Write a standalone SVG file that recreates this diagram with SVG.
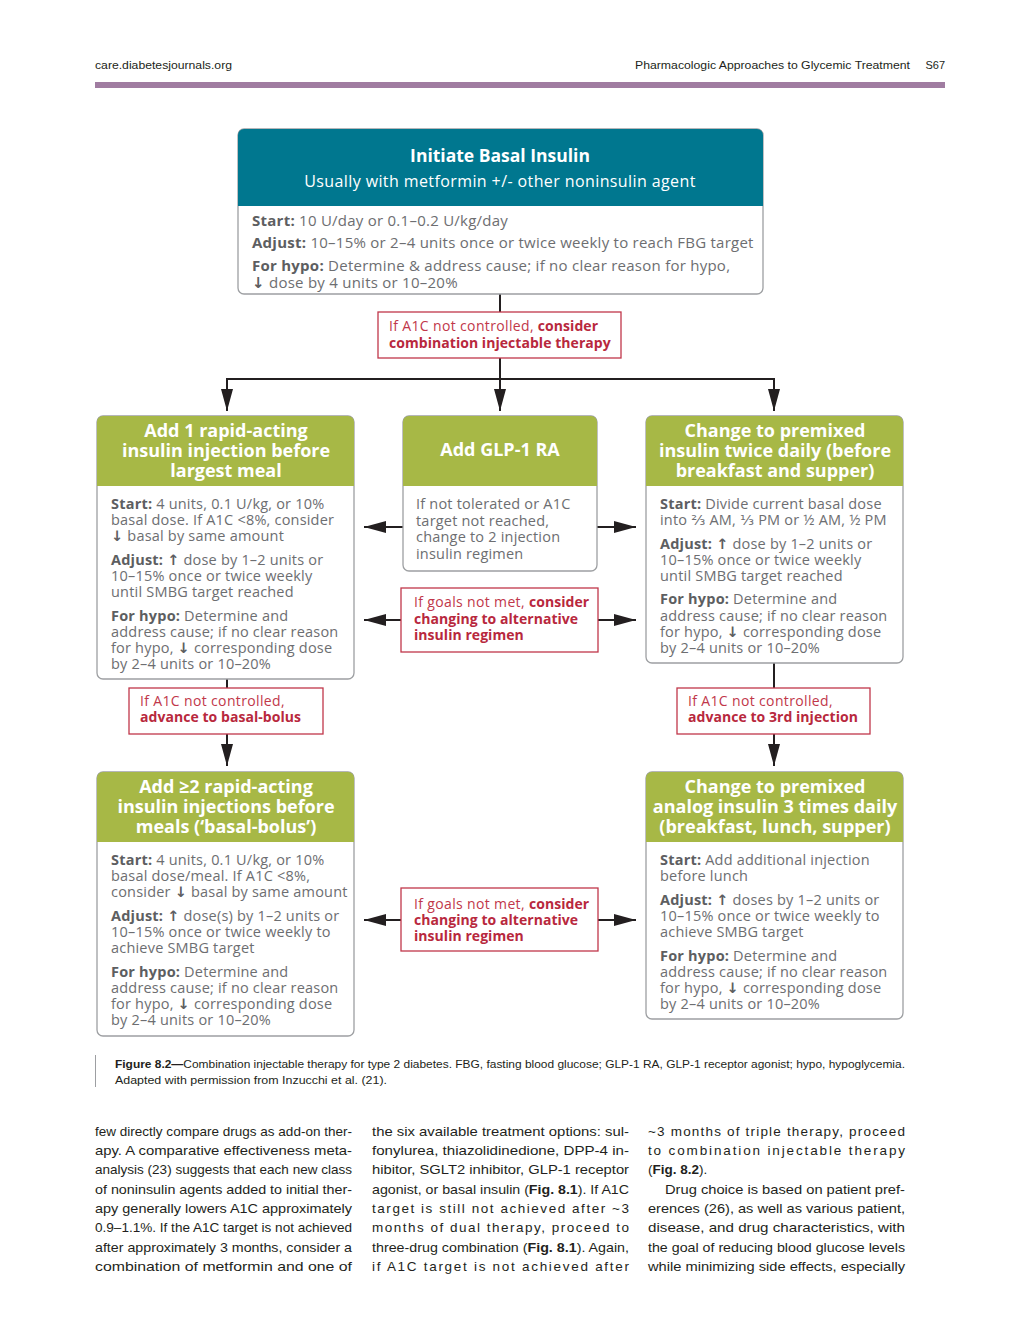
<svg xmlns="http://www.w3.org/2000/svg" width="1024" height="1326" viewBox="0 0 1024 1326">
<defs>
<marker id="ah" markerWidth="22" markerHeight="12" refX="22" refY="6" orient="auto" markerUnits="userSpaceOnUse">
<path d="M0,0 L22,6 L0,12 Z" fill="#231f20"/>
</marker>
<style>
.pg{font-family:"Liberation Sans",Arial,sans-serif;fill:#231f20}
.box{fill:#fff;stroke:#9d9fa2;stroke-width:1.3}
.teal{fill:#00778f}
.green{fill:#a7b846}
.ttl{font-family:"Open Sans","DejaVu Sans",sans-serif;font-weight:bold;fill:#fff;font-size:18px;text-anchor:middle}
.ttl0{font-family:"Open Sans","DejaVu Sans",sans-serif;font-weight:bold;fill:#fff;font-size:17.5px;text-anchor:middle}
.sub{font-family:"Open Sans","DejaVu Sans",sans-serif;fill:#fff;font-size:16px;letter-spacing:0.4px;text-anchor:middle}
.bd{font-family:"Open Sans","DejaVu Sans",sans-serif;fill:#6d6e71;font-size:14.5px;letter-spacing:0.2px}
.bd0{font-size:15px;letter-spacing:0.25px}
.bd tspan.b{font-weight:bold;fill:#5d5e61}
.bd tspan.a{font-weight:bold;fill:#5d5e61}
.rb{fill:#fff;stroke:#c1374a;stroke-width:1.3}
.rt{font-family:"Open Sans","DejaVu Sans",sans-serif;fill:#c1374a;font-size:14px;letter-spacing:0.35px}
.rt tspan.b{font-weight:bold;fill:#b8283d;letter-spacing:0.05px}
.ln{stroke:#231f20;stroke-width:2;fill:none}
.ar{stroke:#231f20;stroke-width:2;fill:none;marker-end:url(#ah)}
.txt{font-family:"Liberation Sans",Arial,sans-serif;fill:#231f20;font-size:13.5px}
</style>
</defs>
<rect width="1024" height="1326" fill="#fff"/>

<g id="page-header">
<text class="pg" x="95" y="69" font-size="11" textLength="137" lengthAdjust="spacingAndGlyphs">care.diabetesjournals.org</text>
<text class="pg" x="635" y="69" font-size="11" textLength="275" lengthAdjust="spacingAndGlyphs">Pharmacologic Approaches to Glycemic Treatment</text>
<text class="pg" x="945" y="69" font-size="11" text-anchor="end">S67</text>
<rect x="95" y="82" width="850" height="6" fill="#a07ca1"/>
</g>

<g id="connectors">
<line class="ln" x1="500" y1="294" x2="500" y2="312"/>
<line class="ln" x1="500" y1="358" x2="500" y2="379"/>
<line class="ln" x1="226" y1="379" x2="775" y2="379"/>
<line class="ar" x1="227" y1="379" x2="227" y2="411"/>
<line class="ar" x1="500" y1="379" x2="500" y2="411"/>
<line class="ar" x1="774" y1="379" x2="774" y2="411"/>
<line class="ar" x1="403" y1="527" x2="364" y2="527"/>
<line class="ar" x1="597" y1="527" x2="636" y2="527"/>
<line class="ar" x1="401" y1="620" x2="364" y2="620"/>
<line class="ar" x1="598" y1="620" x2="636" y2="620"/>
<line class="ln" x1="227" y1="679" x2="227" y2="688"/>
<line class="ar" x1="227" y1="734" x2="227" y2="766"/>
<line class="ln" x1="774" y1="663" x2="774" y2="688"/>
<line class="ar" x1="774" y1="734" x2="774" y2="766"/>
<line class="ar" x1="401" y1="920" x2="364" y2="920"/>
<line class="ar" x1="598" y1="920" x2="636" y2="920"/>
</g>

<g id="node-basal">
<rect class="box" x="238" y="129" width="525" height="165" rx="6"/>
<path class="teal" d="M244,129 H757 A6,6 0 0 1 763,135 V206 H238 V135 A6,6 0 0 1 244,129 Z"/>
<text class="ttl0" x="500" y="162">Initiate Basal Insulin</text>
<text class="sub" x="500" y="187">Usually with metformin +/- other noninsulin agent</text>
<text class="bd bd0" x="252" y="226"><tspan class="b">Start:</tspan> 10 U/day or 0.1–0.2 U/kg/day</text>
<text class="bd bd0" x="252" y="248"><tspan class="b">Adjust:</tspan> 10–15% or 2–4 units once or twice weekly to reach FBG target</text>
<text class="bd bd0" x="252" y="271"><tspan class="b">For hypo:</tspan> Determine &amp; address cause; if no clear reason for hypo,</text>
<text class="bd bd0" x="252" y="288"><tspan class="a">↓</tspan> dose by 4 units or 10–20%</text>
</g>

<g id="cond-combination">
<rect class="rb" x="378" y="312" width="243" height="46"/>
<text class="rt" x="389" y="331">If A1C not controlled, <tspan class="b">consider</tspan></text>
<text class="rt" x="389" y="348"><tspan class="b">combination injectable therapy</tspan></text>
</g>

<g id="node-rapid1">
<rect class="box" x="97" y="416" width="257" height="263" rx="6"/>
<path class="green" d="M103,416 H348 A6,6 0 0 1 354,422 V486 H97 V422 A6,6 0 0 1 103,416 Z"/>
<text class="ttl" x="226" y="437">Add 1 rapid-acting</text>
<text class="ttl" x="226" y="457">insulin injection before</text>
<text class="ttl" x="226" y="477">largest meal</text>
<text class="bd" x="111" y="509"><tspan class="b">Start:</tspan> 4 units, 0.1 U/kg, or 10%</text>
<text class="bd" x="111" y="525">basal dose. If A1C &lt;8%, consider</text>
<text class="bd" x="111" y="541"><tspan class="a">↓</tspan> basal by same amount</text>
<text class="bd" x="111" y="565"><tspan class="b">Adjust:</tspan> <tspan class="a">↑</tspan> dose by 1–2 units or</text>
<text class="bd" x="111" y="581">10–15% once or twice weekly</text>
<text class="bd" x="111" y="597">until SMBG target reached</text>
<text class="bd" x="111" y="621"><tspan class="b">For hypo:</tspan> Determine and</text>
<text class="bd" x="111" y="637">address cause; if no clear reason</text>
<text class="bd" x="111" y="653">for hypo, <tspan class="a">↓</tspan> corresponding dose</text>
<text class="bd" x="111" y="669">by 2–4 units or 10–20%</text>
</g>

<g id="node-glp1">
<rect class="box" x="403" y="416" width="194" height="155" rx="6"/>
<path class="green" d="M409,416 H591 A6,6 0 0 1 597,422 V486 H403 V422 A6,6 0 0 1 409,416 Z"/>
<text class="ttl" x="500" y="456">Add GLP-1 RA</text>
<text class="bd" x="416" y="509">If not tolerated or A1C</text>
<text class="bd" x="416" y="526">target not reached,</text>
<text class="bd" x="416" y="542">change to 2 injection</text>
<text class="bd" x="416" y="559">insulin regimen</text>
</g>

<g id="cond-goals1">
<rect class="rb" x="401" y="588" width="197" height="64"/>
<text class="rt" x="414" y="607">If goals not met, <tspan class="b">consider</tspan></text>
<text class="rt" x="414" y="624"><tspan class="b">changing to alternative</tspan></text>
<text class="rt" x="414" y="640"><tspan class="b">insulin regimen</tspan></text>
</g>

<g id="node-premixed2">
<rect class="box" x="646" y="416" width="257" height="247" rx="6"/>
<path class="green" d="M652,416 H897 A6,6 0 0 1 903,422 V486 H646 V422 A6,6 0 0 1 652,416 Z"/>
<text class="ttl" x="775" y="437">Change to premixed</text>
<text class="ttl" x="775" y="457">insulin twice daily (before</text>
<text class="ttl" x="775" y="477">breakfast and supper)</text>
<text class="bd" x="660" y="509"><tspan class="b">Start:</tspan> Divide current basal dose</text>
<text class="bd" x="660" y="525">into ⅔ AM, ⅓ PM or ½ AM, ½ PM</text>
<text class="bd" x="660" y="549"><tspan class="b">Adjust:</tspan> <tspan class="a">↑</tspan> dose by 1–2 units or</text>
<text class="bd" x="660" y="565">10–15% once or twice weekly</text>
<text class="bd" x="660" y="581">until SMBG target reached</text>
<text class="bd" x="660" y="604"><tspan class="b">For hypo:</tspan> Determine and</text>
<text class="bd" x="660" y="621">address cause; if no clear reason</text>
<text class="bd" x="660" y="637">for hypo, <tspan class="a">↓</tspan> corresponding dose</text>
<text class="bd" x="660" y="653">by 2–4 units or 10–20%</text>
</g>

<g id="cond-basal-bolus">
<rect class="rb" x="129" y="688" width="194" height="46"/>
<text class="rt" x="140" y="706">If A1C not controlled,</text>
<text class="rt" x="140" y="722"><tspan class="b">advance to basal-bolus</tspan></text>
</g>

<g id="cond-3rd">
<rect class="rb" x="677" y="688" width="193" height="46"/>
<text class="rt" x="688" y="706">If A1C not controlled,</text>
<text class="rt" x="688" y="722"><tspan class="b">advance to 3rd injection</tspan></text>
</g>

<g id="node-basal-bolus">
<rect class="box" x="97" y="772" width="257" height="264" rx="6"/>
<path class="green" d="M103,772 H348 A6,6 0 0 1 354,778 V842 H97 V778 A6,6 0 0 1 103,772 Z"/>
<text class="ttl" x="226" y="793">Add ≥2 rapid-acting</text>
<text class="ttl" x="226" y="813">insulin injections before</text>
<text class="ttl" x="226" y="833">meals (‘basal-bolus’)</text>
<text class="bd" x="111" y="865"><tspan class="b">Start:</tspan> 4 units, 0.1 U/kg, or 10%</text>
<text class="bd" x="111" y="881">basal dose/meal. If A1C &lt;8%,</text>
<text class="bd" x="111" y="897">consider <tspan class="a">↓</tspan> basal by same amount</text>
<text class="bd" x="111" y="921"><tspan class="b">Adjust:</tspan> <tspan class="a">↑</tspan> dose(s) by 1–2 units or</text>
<text class="bd" x="111" y="937">10–15% once or twice weekly to</text>
<text class="bd" x="111" y="953">achieve SMBG target</text>
<text class="bd" x="111" y="977"><tspan class="b">For hypo:</tspan> Determine and</text>
<text class="bd" x="111" y="993">address cause; if no clear reason</text>
<text class="bd" x="111" y="1009">for hypo, <tspan class="a">↓</tspan> corresponding dose</text>
<text class="bd" x="111" y="1025">by 2–4 units or 10–20%</text>
</g>

<g id="cond-goals2">
<rect class="rb" x="401" y="888" width="197" height="63"/>
<text class="rt" x="414" y="909">If goals not met, <tspan class="b">consider</tspan></text>
<text class="rt" x="414" y="925"><tspan class="b">changing to alternative</tspan></text>
<text class="rt" x="414" y="941"><tspan class="b">insulin regimen</tspan></text>
</g>

<g id="node-premixed3">
<rect class="box" x="646" y="772" width="257" height="247" rx="6"/>
<path class="green" d="M652,772 H897 A6,6 0 0 1 903,778 V842 H646 V778 A6,6 0 0 1 652,772 Z"/>
<text class="ttl" x="775" y="793">Change to premixed</text>
<text class="ttl" x="775" y="813">analog insulin 3 times daily</text>
<text class="ttl" x="775" y="833">(breakfast, lunch, supper)</text>
<text class="bd" x="660" y="865"><tspan class="b">Start:</tspan> Add additional injection</text>
<text class="bd" x="660" y="881">before lunch</text>
<text class="bd" x="660" y="905"><tspan class="b">Adjust:</tspan> <tspan class="a">↑</tspan> doses by 1–2 units or</text>
<text class="bd" x="660" y="921">10–15% once or twice weekly to</text>
<text class="bd" x="660" y="937">achieve SMBG target</text>
<text class="bd" x="660" y="961"><tspan class="b">For hypo:</tspan> Determine and</text>
<text class="bd" x="660" y="977">address cause; if no clear reason</text>
<text class="bd" x="660" y="993">for hypo, <tspan class="a">↓</tspan> corresponding dose</text>
<text class="bd" x="660" y="1009">by 2–4 units or 10–20%</text>
</g>

<g id="caption">
<line x1="95.5" y1="1055" x2="95.5" y2="1087" stroke="#9d9fa2" stroke-width="1"/>
<text class="pg" x="115" y="1068" font-size="11" textLength="790" lengthAdjust="spacingAndGlyphs"><tspan font-weight="bold">Figure 8.2—</tspan>Combination injectable therapy for type 2 diabetes. FBG, fasting blood glucose; GLP-1 RA, GLP-1 receptor agonist; hypo, hypoglycemia.</text>
<text class="pg" x="115" y="1084" font-size="11" textLength="272" lengthAdjust="spacingAndGlyphs">Adapted with permission from Inzucchi et al. (21).</text>
</g>

<g id="body-text">
<text class="txt" x="95" y="1136" textLength="257" lengthAdjust="spacingAndGlyphs">few directly compare drugs as add-on ther-</text>
<text class="txt" x="95" y="1155" textLength="257" lengthAdjust="spacingAndGlyphs">apy. A comparative effectiveness meta-</text>
<text class="txt" x="95" y="1174" textLength="257" lengthAdjust="spacingAndGlyphs">analysis (23) suggests that each new class</text>
<text class="txt" x="95" y="1194" textLength="257" lengthAdjust="spacingAndGlyphs">of noninsulin agents added to initial ther-</text>
<text class="txt" x="95" y="1213" textLength="257" lengthAdjust="spacingAndGlyphs">apy generally lowers A1C approximately</text>
<text class="txt" x="95" y="1232" textLength="257" lengthAdjust="spacingAndGlyphs">0.9–1.1%. If the A1C target is not achieved</text>
<text class="txt" x="95" y="1252" textLength="257" lengthAdjust="spacingAndGlyphs">after approximately 3 months, consider a</text>
<text class="txt" x="95" y="1271" textLength="257" lengthAdjust="spacingAndGlyphs">combination of metformin and one of</text>

<text class="txt" x="372" y="1136" textLength="257" lengthAdjust="spacingAndGlyphs">the six available treatment options: sul-</text>
<text class="txt" x="372" y="1155" textLength="257" lengthAdjust="spacingAndGlyphs">fonylurea, thiazolidinedione, DPP-4 in-</text>
<text class="txt" x="372" y="1174" textLength="257" lengthAdjust="spacingAndGlyphs">hibitor, SGLT2 inhibitor, GLP-1 receptor</text>
<text class="txt" x="372" y="1194" textLength="257" lengthAdjust="spacingAndGlyphs">agonist, or basal insulin (<tspan font-weight="bold">Fig. 8.1</tspan>). If A1C</text>
<text class="txt" x="372" y="1213" textLength="257" lengthAdjust="spacing">target is still not achieved after ~3</text>
<text class="txt" x="372" y="1232" textLength="257" lengthAdjust="spacing">months of dual therapy, proceed to</text>
<text class="txt" x="372" y="1252" textLength="257" lengthAdjust="spacingAndGlyphs">three-drug combination (<tspan font-weight="bold">Fig. 8.1</tspan>). Again,</text>
<text class="txt" x="372" y="1271" textLength="257" lengthAdjust="spacing">if A1C target is not achieved after</text>

<text class="txt" x="648" y="1136" textLength="257" lengthAdjust="spacing">~3 months of triple therapy, proceed</text>
<text class="txt" x="648" y="1155" textLength="257" lengthAdjust="spacing">to combination injectable therapy</text>
<text class="txt" x="648" y="1174">(<tspan font-weight="bold">Fig. 8.2</tspan>).</text>
<text class="txt" x="665" y="1194" textLength="240" lengthAdjust="spacingAndGlyphs">Drug choice is based on patient pref-</text>
<text class="txt" x="648" y="1213" textLength="257" lengthAdjust="spacingAndGlyphs">erences (26), as well as various patient,</text>
<text class="txt" x="648" y="1232" textLength="257" lengthAdjust="spacingAndGlyphs">disease, and drug characteristics, with</text>
<text class="txt" x="648" y="1252" textLength="257" lengthAdjust="spacingAndGlyphs">the goal of reducing blood glucose levels</text>
<text class="txt" x="648" y="1271" textLength="257" lengthAdjust="spacingAndGlyphs">while minimizing side effects, especially</text>
</g>
</svg>
